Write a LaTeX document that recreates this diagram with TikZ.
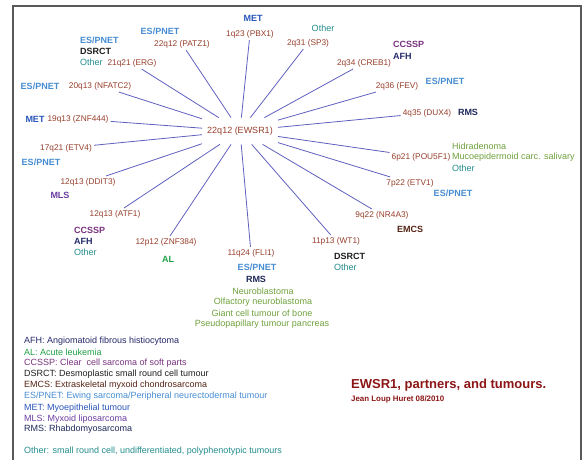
\documentclass[tikz,border=0pt]{standalone}
\usepackage{fontspec}
\setmainfont{Liberation Sans}
\usepackage{tikz}
\usetikzlibrary{calc}

\definecolor{genecol}{RGB}{150,62,42}
\definecolor{linkcol}{RGB}{95,95,190}
\definecolor{espnetcol}{RGB}{70,140,210}
\definecolor{metcol}{RGB}{40,85,185}
\definecolor{othercol}{RGB}{35,140,140}
\definecolor{ccsspcol}{RGB}{120,50,125}
\definecolor{afhcol}{RGB}{35,40,105}
\definecolor{mlscol}{RGB}{105,60,160}
\definecolor{alcol}{RGB}{30,160,70}
\definecolor{emcscol}{RGB}{85,35,20}
\definecolor{dsrctcol}{RGB}{30,30,30}
\definecolor{rmscol}{RGB}{30,40,90}
\definecolor{misccol}{RGB}{110,160,60}
\definecolor{titlecol}{RGB}{140,22,22}

\tikzset{
	hub/.style={text=genecol, font=\fontsize{9}{11}\selectfont, inner xsep=5pt, inner ysep=9pt},
	gene/.style={text=genecol, font=\fontsize{8.3}{10}\selectfont, inner sep=2pt},
	tum/.style={font=\bfseries\fontsize{9}{11}\selectfont, inner sep=0pt},
	plain/.style={font=\fontsize{9}{11}\selectfont, inner sep=0pt},
	legend/.style={font=\fontsize{9}{11}\selectfont, inner sep=0pt, anchor=west},
	link/.style={draw=linkcol, line width=0.8pt},
	frame/.style={draw=gray!70!black, line width=1.5pt}
}

\begin{document}
\begin{tikzpicture}[x=1pt,y=-1pt]
	\useasboundingbox (0,0) rectangle (584,460);
	\draw[frame] (13,460) -- (13,6) -- (581,6) -- (581,460);
	
	\node[hub] (ewsr) at (240,131) {22q12 (EWSR1)};
	
	\node[gene] (pbx1) at (250,34) {1q23 (PBX1)};
	\node[gene] (patz1) at (182,44) {22q12 (PATZ1)};
	\node[gene] (erg) at (132,63) {21q21 (ERG)};
	\node[gene] (nfatc2) at (100,86) {20q13 (NFATC2)};
	\node[gene] (znf444) at (78,119) {19q13 (ZNF444)};
	\node[gene] (etv4) at (66,148) {17q21 (ETV4)};
	\node[gene] (ddit3) at (88,182) {12q13 (DDIT3)};
	\node[gene] (atf1) at (115,214) {12q13 (ATF1)};
	\node[gene] (znf384) at (166,242) {12p12 (ZNF384)};
	\node[gene] (fli1) at (251,253) {11q24 (FLI1)};
	\node[gene] (wt1) at (336,241) {11p13 (WT1)};
	\node[gene] (nr4a3) at (382,215) {9q22 (NR4A3)};
	\node[gene] (etv1) at (410,183) {7p22 (ETV1)};
	\node[gene] (pou5f1) at (421,157) {6p21 (POU5F1)};
	\node[gene] (dux4) at (427,113) {4q35 (DUX4)};
	\node[gene] (fev) at (397,86) {2q36 (FEV)};
	\node[gene] (creb1) at (364,63) {2q34 (CREB1)};
	\node[gene] (sp3) at (308,43) {2q31 (SP3)};
	
	\draw[link] (ewsr) -- (pbx1);
	\draw[link] (ewsr) -- (patz1);
	\draw[link] (ewsr) -- (erg);
	\draw[link] (ewsr) -- (nfatc2);
	\draw[link] (ewsr) -- (znf444);
	\draw[link] (ewsr) -- (etv4);
	\draw[link] (ewsr) -- (ddit3);
	\draw[link] (ewsr) -- (atf1);
	\draw[link] (ewsr) -- (znf384);
	\draw[link] (ewsr) -- (fli1);
	\draw[link] (ewsr) -- (wt1);
	\draw[link] (ewsr) -- (nr4a3);
	\draw[link] (ewsr) -- (etv1);
	\draw[link] (ewsr) -- (pou5f1);
	\draw[link] (ewsr) -- (dux4);
	\draw[link] (ewsr) -- (fev);
	\draw[link] (ewsr) -- (creb1);
	\draw[link] (ewsr) -- (sp3);
	
	% tumours
	\node[tum, text=metcol] (metA) at (253,18) {MET};
	\node[tum, text=espnetcol] (esA) at (160,31) {ES/PNET};
	\node[tum, text=espnetcol, anchor=west] (esB) at (80,40) {ES/PNET};
	\node[tum, text=dsrctcol, anchor=west] (dsA) at (80,51) {DSRCT};
	\node[plain, text=othercol, anchor=west] (otA) at (80,62) {Other};
	\node[tum, text=espnetcol] (esC) at (40,86) {ES/PNET};
	\node[tum, text=metcol] (metB) at (35,119) {MET};
	\node[tum, text=espnetcol] (esD) at (41,162) {ES/PNET};
	\node[tum, text=mlscol] (mls) at (60,195) {MLS};
	\node[tum, text=ccsspcol, anchor=west] (ccA) at (74,230) {CCSSP};
	\node[tum, text=afhcol, anchor=west] (afhA) at (74,241) {AFH};
	\node[plain, text=othercol, anchor=west] (otB) at (74,252) {Other};
	\node[tum, text=alcol] (al) at (168,259) {AL};
	\node[tum, text=espnetcol] (esE) at (257,267) {ES/PNET};
	\node[tum, text=rmscol] (rmsA) at (256,279) {RMS};
	\node[plain, text=misccol] (nb) at (263,291) {Neuroblastoma};
	\node[plain, text=misccol] (onb) at (263,302) {Olfactory neuroblastoma};
	\node[plain, text=misccol] (gct) at (262,313) {Giant cell tumour of bone};
	\node[plain, text=misccol] (ppt) at (262,324) {Pseudopapillary tumour pancreas};
	\node[tum, text=dsrctcol, anchor=west] (dsB) at (334,256) {DSRCT};
	\node[plain, text=othercol, anchor=west] (otC) at (334,267) {Other};
	\node[tum, text=emcscol] (emcs) at (410,229) {EMCS};
	\node[tum, text=espnetcol] (esF) at (453,193) {ES/PNET};
	\node[plain, text=misccol, anchor=west] (hid) at (452,146) {Hidradenoma};
	\node[plain, text=misccol, anchor=west] (muc) at (452,157) {Mucoepidermoid carc. salivary};
	\node[plain, text=othercol, anchor=west] (otD) at (452,168) {Other};
	\node[tum, text=rmscol] (rmsB) at (468,112) {RMS};
	\node[tum, text=espnetcol] (esG) at (445,81) {ES/PNET};
	\node[tum, text=ccsspcol, anchor=west] (ccB) at (393,44) {CCSSP};
	\node[tum, text=afhcol, anchor=west] (afhB) at (393,56) {AFH};
	\node[plain, text=othercol] (otE) at (323,28) {Other};
	
	% legend
	\node[legend, text=afhcol] (lgafh) at (24,341) {AFH: Angiomatoid fibrous histiocytoma};
	\node[legend, text=alcol] (lgal) at (24,352) {AL: Acute leukemia};
	\node[legend, text=ccsspcol] (lgccssp) at (24,363) {CCSSP: Clear\ \ cell sarcoma of soft parts};
	\node[legend, text=dsrctcol] (lgdsrct) at (24,374) {DSRCT: Desmoplastic small round cell tumour};
	\node[legend, text=emcscol] (lgemcs) at (24,385) {EMCS: Extraskeletal myxoid chondrosarcoma};
	\node[legend, text=espnetcol] (lges) at (24,396) {ES/PNET: Ewing sarcoma/Peripheral neurectodermal tumour};
	\node[legend, text=metcol] (lgmet) at (24,408) {MET: Myoepithelial tumour};
	\node[legend, text=mlscol] (lgmls) at (24,419) {MLS: Myxoid liposarcoma};
	\node[legend, text=rmscol] (lgrms) at (24,429) {RMS: Rhabdomyosarcoma};
	\node[legend, text=othercol] (lgother) at (24,451) {Other: small round cell, undifferentiated, polyphenotypic tumours};
	
	\node[inner sep=0pt, anchor=west, text=titlecol, font=\bfseries\fontsize{13}{15}\selectfont] (title) at (351,385) {EWSR1, partners, and tumours.};
	\node[inner sep=0pt, anchor=west, text=titlecol, font=\bfseries\fontsize{7.9}{9}\selectfont] (author) at (351,399) {Jean Loup Huret 08/2010};
	
\end{tikzpicture}
\end{document}
